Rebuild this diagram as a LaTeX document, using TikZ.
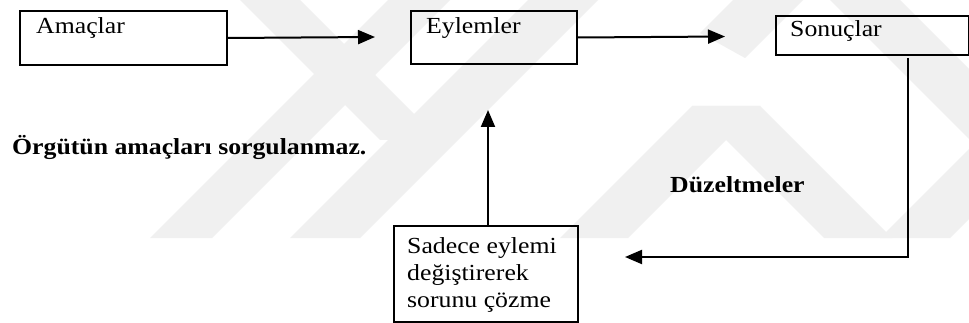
\documentclass[tikz,border=0pt]{standalone}
\usepackage{fontspec}
\setmainfont{Liberation Serif}[FakeStretch=1.12]
\usetikzlibrary{arrows.meta}
\begin{document}
\begin{tikzpicture}[x=1pt,y=-1pt,
  box/.style={draw, line width=2pt, rectangle, inner sep=0pt, anchor=north west},
  txt/.style={anchor=base west, inner sep=0pt, font=\fontsize{23}{27}\selectfont},
  btxt/.style={anchor=base west, inner sep=0pt, font=\fontsize{23}{27}\selectfont\bfseries},
  link/.style={line width=2pt, -{Triangle[length=17pt,width=14pt]}},
  wm/.style={fill=black!6, draw=none}]
\useasboundingbox (0,0) rectangle (969,323);
\fill[white] (0,0) rectangle (969,323);
% faint watermark bands
\fill[wm] (150,238) -- (212,238) -- (450,0) -- (388,0) -- cycle;
\fill[wm] (290,238) -- (360,238) -- (598,0) -- (528,0) -- cycle;
\fill[wm] (240,0) -- (300,0) -- (440,140) -- (380,140) -- cycle;
\fill[wm] (560,238) -- (628,238) -- (760,106) -- (692,106) -- cycle;
\fill[wm] (692,106) -- (760,106) -- (892,238) -- (824,238) -- cycle;
\fill[wm] (880,238) -- (950,238) -- (969,219) -- (969,149) -- cycle;
\fill[wm] (733,0) -- (803,0) -- (745,58) -- (700,33) -- cycle;
\fill[wm] (830,0) -- (900,0) -- (969,69) -- (969,139) -- cycle;
% boxes
\node[box, minimum width=207pt, minimum height=54pt] (amac) at (19,10) {};
\node[box, minimum width=166pt, minimum height=53pt] (eylem) at (410,10) {};
\node[box, minimum width=193pt, minimum height=39pt] (sonuc) at (775,15) {};
\node[box, minimum width=184pt, minimum height=96pt] (sadece) at (393,225) {};
% box texts
\node[txt] (tamac) at (36,34) {Amaçlar};
\node[txt] (teylem) at (426,34) {Eylemler};
\node[txt] (tsonuc) at (790,37) {Sonuçlar};
\node[txt] (ts1) at (407,253) {Sadece eylemi};
\node[txt] (ts2) at (407,280) {değiştirerek};
\node[txt] (ts3) at (407,307) {sorunu çözme};
% bold labels
\node[btxt] (lorg) at (12,155) {Örgütün amaçları sorgulanmaz.};
\node[btxt] (lduz) at (670,193) {Düzeltmeler};
% connectors
\coordinate (e1) at (375,37);
\coordinate (e2) at (725,36.5);
\coordinate (s1) at (908,58);
\coordinate (s2) at (908,257);
\coordinate (s3) at (625,257);
\coordinate (u1) at (488,110);
\draw[link] (amac.east) -- (e1);
\draw[link] (eylem.east) -- (e2);
\draw[link] (s1) -- (s2) -- (s3);
\draw[link] (sadece.north -| u1) -- (u1);
\end{tikzpicture}
\end{document}
